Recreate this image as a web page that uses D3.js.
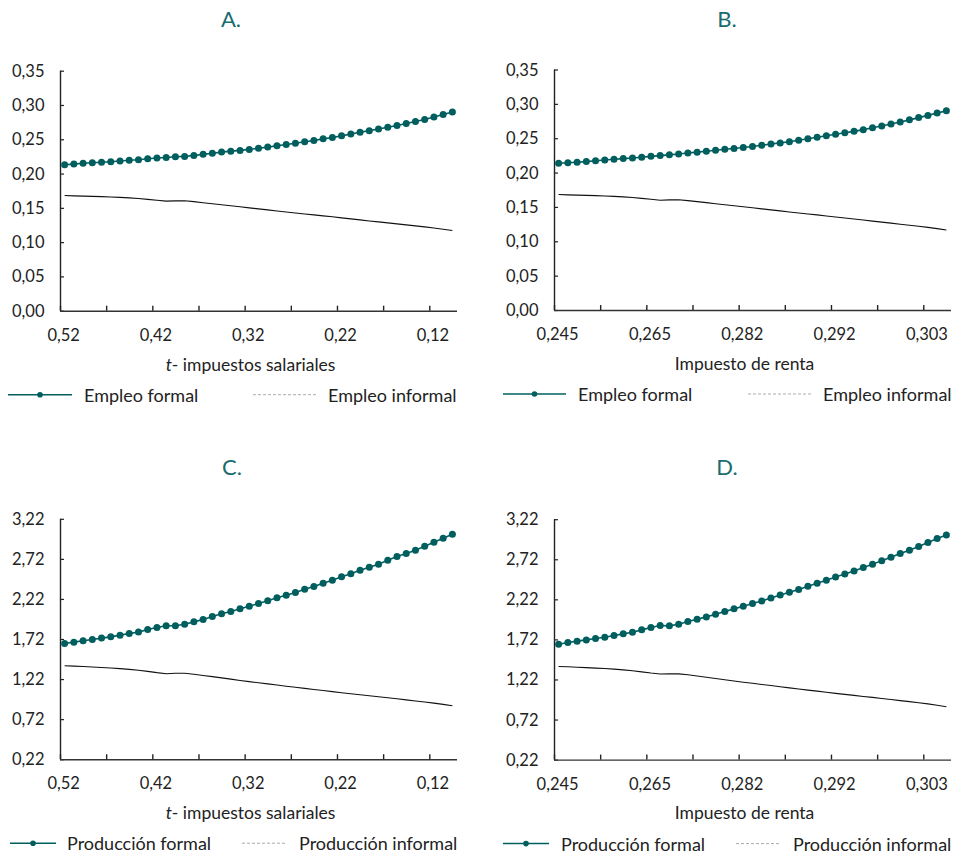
<!DOCTYPE html>
<html><head><meta charset="utf-8">
<script src="https://cdn.jsdelivr.net/npm/d3@7"></script>
<style>
html,body{margin:0;padding:0;background:#fff;}
svg{display:block;font-family:Lato,"Open Sans",sans-serif;}
</style></head>
<body>
<svg id="chart" width="956" height="855"></svg>
<script>
// ---------- DATA ----------
const panelTitles = ["A.", "B.", "C.", "D."];
const categoriesSalarial = [0.52,0.51,0.50,0.49,0.48,0.47,0.46,0.45,0.44,0.43,0.42,0.41,0.40,0.39,0.38,0.37,0.36,0.35,0.34,0.33,0.32,0.31,0.30,0.29,0.28,0.27,0.26,0.25,0.24,0.23,0.22,0.21,0.20,0.19,0.18,0.17,0.16,0.15,0.14,0.13,0.12,0.11,0.10];
const tickIndex = [0, 10, 20, 30, 40];
const tickLabelsSalarial = ["0,52", "0,42", "0,32", "0,22", "0,12"];
const tickLabelsRenta = ["0,245", "0,265", "0,282", "0,292", "0,303"];
const xTitleSalarial = "impuestos salariales";
const xTitleRenta = "Impuesto de renta";
const yTicksEmpleo = [0.00, 0.05, 0.10, 0.15, 0.20, 0.25, 0.30, 0.35];
const yTicksProduccion = [0.22, 0.72, 1.22, 1.72, 2.22, 2.72, 3.22];
const legendEmpleo = ["Empleo formal", "Empleo informal"];
const legendProduccion = ["Producción formal", "Producción informal"];

const empleoFormalA = [0.2129,0.2138,0.2151,0.2158,0.2166,0.2173,0.2182,0.2195,0.2202,0.2215,0.2226,0.2235,0.2245,0.2250,0.2264,0.2280,0.2297,0.2313,0.2327,0.2338,0.2352,0.2370,0.2386,0.2405,0.2424,0.2443,0.2463,0.2483,0.2506,0.2527,0.2550,0.2577,0.2602,0.2626,0.2649,0.2675,0.2700,0.2729,0.2760,0.2789,0.2825,0.2860,0.2898];
const empleoInformalA = [0.1679,0.1675,0.1671,0.1667,0.1663,0.1658,0.1652,0.1645,0.1636,0.1624,0.1610,0.1598,0.1602,0.1603,0.1590,0.1575,0.1560,0.1545,0.1530,0.1515,0.1500,0.1485,0.1470,0.1455,0.1440,0.1425,0.1411,0.1397,0.1383,0.1369,0.1354,0.1339,0.1324,0.1309,0.1295,0.1281,0.1266,0.1252,0.1237,0.1222,0.1205,0.1188,0.1170];
const empleoFormalB = [0.2136,0.2144,0.2151,0.2160,0.2172,0.2183,0.2193,0.2203,0.2213,0.2224,0.2236,0.2247,0.2258,0.2271,0.2285,0.2297,0.2311,0.2325,0.2339,0.2351,0.2365,0.2380,0.2398,0.2416,0.2432,0.2449,0.2471,0.2493,0.2515,0.2537,0.2558,0.2580,0.2600,0.2625,0.2651,0.2679,0.2707,0.2735,0.2767,0.2800,0.2832,0.2867,0.2898];
const empleoInformalB = [0.1680,0.1676,0.1672,0.1668,0.1664,0.1659,0.1653,0.1646,0.1637,0.1625,0.1611,0.1598,0.1603,0.1604,0.1592,0.1577,0.1562,0.1547,0.1532,0.1517,0.1502,0.1487,0.1472,0.1457,0.1442,0.1427,0.1412,0.1398,0.1384,0.1369,0.1354,0.1339,0.1324,0.1309,0.1294,0.1279,0.1264,0.1249,0.1234,0.1219,0.1202,0.1184,0.1165];
const produccionFormalC = [1.664,1.681,1.698,1.714,1.731,1.747,1.768,1.789,1.806,1.839,1.864,1.885,1.885,1.905,1.934,1.964,2.001,2.034,2.063,2.097,2.130,2.163,2.196,2.234,2.267,2.300,2.342,2.375,2.417,2.454,2.496,2.533,2.579,2.616,2.653,2.703,2.749,2.787,2.828,2.878,2.928,2.978,3.028];
const produccionInformalC = [1.386,1.381,1.376,1.371,1.365,1.358,1.350,1.341,1.330,1.316,1.300,1.287,1.293,1.292,1.280,1.265,1.250,1.235,1.219,1.203,1.188,1.174,1.160,1.146,1.131,1.117,1.104,1.090,1.077,1.063,1.050,1.037,1.025,1.012,1.000,0.987,0.974,0.960,0.947,0.934,0.920,0.904,0.887];
const produccionFormalD = [1.660,1.681,1.698,1.714,1.731,1.747,1.768,1.789,1.810,1.839,1.868,1.893,1.889,1.910,1.943,1.972,2.001,2.034,2.067,2.101,2.134,2.167,2.200,2.238,2.275,2.309,2.342,2.383,2.421,2.458,2.500,2.537,2.575,2.616,2.658,2.703,2.745,2.791,2.832,2.878,2.928,2.978,3.023];
const produccionInformalD = [1.382,1.378,1.373,1.368,1.362,1.356,1.349,1.340,1.329,1.315,1.300,1.289,1.292,1.290,1.278,1.263,1.248,1.233,1.217,1.201,1.186,1.172,1.158,1.144,1.129,1.115,1.101,1.087,1.074,1.060,1.047,1.034,1.021,1.008,0.996,0.983,0.970,0.956,0.943,0.929,0.915,0.898,0.879];

// ---------- STYLE / LAYOUT ----------
const TEAL = "#005f5e";
const TITLE_COLOR = "#1a6c70";
const svg = d3.select("#chart");

const panels = [
  {title: panelTitles[0], left: 60, top: 70.7, bottom: 310.7, tcx: 231, tcy: 18,
   formal: empleoFormalA, informal: empleoInformalA, yTicks: yTicksEmpleo,
   xLabels: tickLabelsSalarial, xTitle: "salarial", legend: legendEmpleo,
   leg: {l0: 8, l1: 72, t1: 84, d0: 253, d1: 316, t2: 328}},
  {title: panelTitles[1], left: 554, top: 69.5, bottom: 310, tcx: 727, tcy: 18,
   formal: empleoFormalB, informal: empleoInformalB, yTicks: yTicksEmpleo,
   xLabels: tickLabelsRenta, xTitle: "renta", legend: legendEmpleo,
   leg: {l0: 503, l1: 566, t1: 578, d0: 748, d1: 812, t2: 823}},
  {title: panelTitles[2], left: 60, top: 518.8, bottom: 759.2, tcx: 232, tcy: 466,
   formal: produccionFormalC, informal: produccionInformalC, yTicks: yTicksProduccion,
   xLabels: tickLabelsSalarial, xTitle: "salarial", legend: legendProduccion,
   leg: {l0: 10, l1: 56, t1: 67, d0: 242, d1: 286, t2: 299}},
  {title: panelTitles[3], left: 554, top: 519.2, bottom: 759.6, tcx: 727, tcy: 466,
   formal: produccionFormalD, informal: produccionInformalD, yTicks: yTicksProduccion,
   xLabels: tickLabelsRenta, xTitle: "renta", legend: legendProduccion,
   leg: {l0: 503, l1: 549, t1: 561, d0: 736, d1: 780, t2: 793}}
];
const PLOT_W = 397;
const fmtComma = v => d3.format(".2f")(v).replace(".", ",");

panels.forEach(p => {
  const g = svg.append("g");
  const idx = d3.range(p.formal.length);
  const x = d3.scaleBand().domain(idx).range([p.left, p.left + PLOT_W]).padding(0);
  const cx = i => x(i) + x.bandwidth() / 2;
  const yd = d3.extent(p.yTicks);
  const y = d3.scaleLinear().domain(yd).range([p.bottom, p.top]);

  // title
  g.append("text").attr("x", p.tcx).attr("y", p.tcy).attr("text-anchor", "middle")
    .attr("dominant-baseline", "central").attr("font-size", 22).attr("fill", TITLE_COLOR)
    .text(p.title);

  // y axis
  const yAxis = d3.axisRight(y).tickValues(p.yTicks).tickSize(4).tickFormat("");
  const ya = g.append("g").attr("transform", `translate(${p.left},0)`).call(yAxis);
  ya.select(".domain").attr("stroke", "#222").attr("stroke-width", 1.4).attr("d", `M0.5,${p.top}V${p.bottom}`);
  ya.selectAll(".tick line").attr("stroke", "#222").attr("stroke-width", 1.2);
  g.selectAll(".ylab").data(p.yTicks).enter().append("text")
    .attr("x", p.left - 15.5).attr("y", d => y(d)).attr("text-anchor", "end")
    .attr("dominant-baseline", "central").attr("font-size", 16.5).attr("fill", "#222")
    .text(d => fmtComma(d));

  // x axis: ticks every 5 categories at category boundaries
  const boundaryTicks = d3.range(0, p.formal.length, 5);
  const xTickScale = d3.scaleLinear().domain([0, p.formal.length]).range([p.left, p.left + PLOT_W]);
  const xAxis = d3.axisTop(xTickScale).tickValues(boundaryTicks).tickSize(5).tickFormat("");
  const xa = g.append("g").attr("transform", `translate(0,${p.bottom})`).call(xAxis);
  xa.select(".domain").attr("stroke", "#333").attr("stroke-width", 1.4).attr("d", `M${p.left},0.5H${p.left + PLOT_W}`);
  xa.selectAll(".tick line").attr("stroke", "#222").attr("stroke-width", 1.4);
  g.selectAll(".xlab").data(tickIndex).enter().append("text")
    .attr("x", (d) => cx(d) - 1).attr("y", p.bottom + 24).attr("text-anchor", "middle")
    .attr("dominant-baseline", "central").attr("font-size", 16.5).attr("fill", "#222")
    .text((d, i) => p.xLabels[i]);

  // x axis title
  const xt = g.append("text").attr("x", p.left + PLOT_W / 2 - 8).attr("y", p.bottom + 53)
    .attr("text-anchor", "middle").attr("dominant-baseline", "central")
    .attr("font-size", 17.5).attr("fill", "#222");
  if (p.xTitle === "salarial") {
    xt.append("tspan").attr("font-style", "italic").text("t");
    xt.append("tspan").text("- " + xTitleSalarial);
  } else {
    xt.text(xTitleRenta);
  }

  // informal line
  g.append("path").datum(p.informal)
    .attr("fill", "none").attr("stroke", "#111").attr("stroke-width", 1.1)
    .attr("d", d3.line().x((d, i) => cx(i)).y(d => y(d)));

  // formal line + markers
  g.append("path").datum(p.formal)
    .attr("fill", "none").attr("stroke", TEAL).attr("stroke-width", 1.6)
    .attr("d", d3.line().x((d, i) => cx(i)).y(d => y(d)));
  g.selectAll(".mk").data(p.formal).enter().append("circle")
    .attr("cx", (d, i) => cx(i)).attr("cy", d => y(d)).attr("r", 3.5).attr("fill", TEAL);

  // legend
  const ly = p.bottom + 84;
  g.append("line").attr("x1", p.leg.l0).attr("x2", p.leg.l1).attr("y1", ly).attr("y2", ly)
    .attr("stroke", TEAL).attr("stroke-width", 1.5);
  g.append("circle").attr("cx", (p.leg.l0 + p.leg.l1) / 2).attr("cy", ly).attr("r", 2.8).attr("fill", TEAL);
  g.append("text").attr("x", p.leg.t1).attr("y", ly).attr("dominant-baseline", "central")
    .attr("font-size", 18).attr("fill", "#222").text(p.legend[0]);
  g.append("line").attr("x1", p.leg.d0).attr("x2", p.leg.d1).attr("y1", ly).attr("y2", ly)
    .attr("stroke", "#aaa").attr("stroke-width", 1).attr("stroke-dasharray", "3,2");
  g.append("text").attr("x", p.leg.t2).attr("y", ly).attr("dominant-baseline", "central")
    .attr("font-size", 18).attr("fill", "#222").text(p.legend[1]);
});
</script>
</body></html>
